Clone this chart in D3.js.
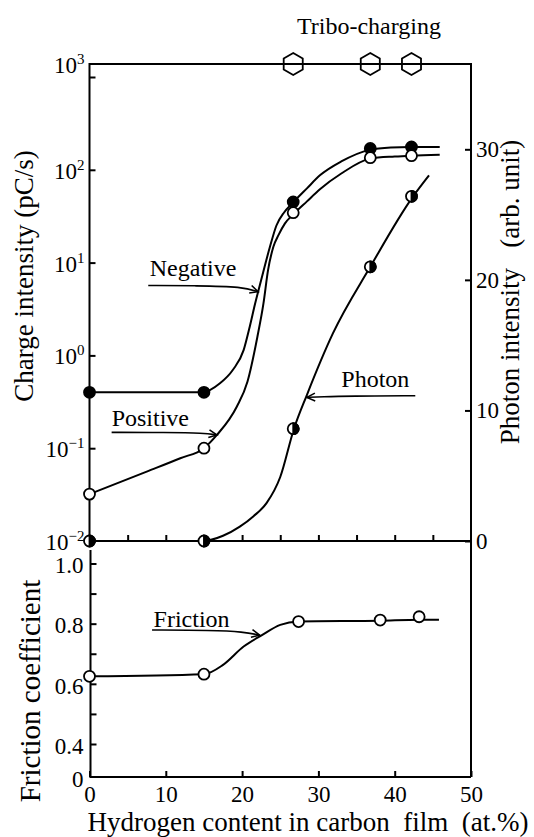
<!DOCTYPE html>
<html><head><meta charset="utf-8">
<script src="https://cdn.jsdelivr.net/npm/d3@7"></script>
<style>
html,body{margin:0;padding:0;background:#fff;}
svg{display:block;}
</style></head><body>
<svg id="chart" width="534" height="837"></svg>
<script>
// ---------- data ----------
const hydrogen = [0, 15, 26.7, 36.8, 42.2];          // at.% (charge / photon points)
const negative = [0.40, 0.40, 45, 170, 176];         // pC/s
const positive = [0.032, 0.10, 34.5, 135, 142];      // pC/s
const photon   = [0, 0, 8.6, 21.0, 26.4];            // arb. unit
const triboCharging = [26.7, 36.8, 42.2];            // at.% where tribo-charging occurs
const frictionX = [0, 15, 27.4, 38.1, 43.2];
const friction  = [0.625, 0.632, 0.807, 0.812, 0.823];

// fitted curves
const negCurveX = [0, 14.8, 17.1, 18.8, 20.2, 21.0, 21.7, 22.5, 23.65, 24.5, 25.5, 26.6, 28.5, 30.2, 33.0, 36.7, 39.5, 42.1, 45.9];
const negCurveY = [0.40, 0.40, 0.50, 0.70, 1.14, 2.04, 3.6, 6.5, 14.8, 25.1, 34.7, 43.7, 63.1, 87.1, 123, 164, 174, 176, 176];
const posCurveX = [0, 7.5, 11.9, 15.0, 16.7, 19.3, 20.7, 22.0, 22.8, 23.4, 24.1, 24.8, 25.6, 26.7, 28.5, 30.2, 33.0, 36.8, 40.0, 42.2, 45.9];
const posCurveY = [0.032, 0.056, 0.078, 0.10, 0.139, 0.28, 0.52, 1.58, 3.63, 8.3, 14.8, 20.0, 26.3, 33.1, 45.7, 61.7, 91.2, 132, 139, 142, 145];
const phoCurveX = [0, 14.9, 17.5, 19.7, 21.5, 23.2, 25.0, 26.8, 28.5, 31.9, 36.8, 42.3, 44.5];
const phoCurveY = [0, 0, 0.4, 1.1, 1.9, 2.9, 4.9, 8.6, 11.2, 15.9, 21.0, 26.3, 28.0];
const friCurveX = [0, 15, 17.5, 20.2, 22.6, 25.0, 27.4, 38.1, 43.2, 45.8];
const friCurveY = [0.625, 0.632, 0.663, 0.724, 0.762, 0.796, 0.807, 0.810, 0.813, 0.813];

// annotation leader lines (data units)
const negArrowX = [7.7, 14.0, 20.1, 22.1];  const negArrowY = [5.66, 5.64, 5.5, 4.85];
const posArrowX = [2.9, 10.0, 15.0, 16.7];  const posArrowY = [0.148, 0.148, 0.146, 0.139];
const phoArrowX = [42.7, 34.0, 30.5, 28.5]; const phoArrowY = [11.13, 11.1, 11.05, 11.0];
const friArrowX = [8.2, 16.0, 20.2, 22.3];  const friArrowY = [0.779, 0.778, 0.773, 0.762];

// ticks / labels
const xTicks = [0, 10, 20, 30, 40, 50];
const xMinorTicks = [5, 10, 15, 20, 25, 30, 35, 40, 45];
const logTicks = [0.01, 0.1, 1, 10, 100, 1000];
const logExponents = ["\u22122", "\u22121", "0", "1", "2", "3"];
const photonTicks = [0, 10, 20, 30];
const frictionTicks = [0, 0.4, 0.6, 0.8, 1.0];
const frictionTickLabels = ["0", "0.4", "0.6", "0.8", "1.0"];
const frictionMinorTicks = [0.4, 0.5, 0.6, 0.7, 0.8, 0.9, 1.0];

// ---------- drawing ----------
const FONT = "'Liberation Serif'";
const svg = d3.select("#chart").style("font-family", FONT);
const LW = 2;
const x = d3.scaleLinear().domain([0, 50]).range([89.5, 471]);
const yLog = d3.scaleLog().domain([0.01, 1000]).range([541, 77]);
const yPh = d3.scaleLinear().domain([0, 30]).range([541, 149.3]);
const yFr = d3.scaleLinear().domain([0, 0.4, 1.0]).range([777, 744, 563.5]);
const frameTop = 64;

svg.append("rect").attr("width", 534).attr("height", 837).attr("fill", "#fff");

// frame lines
const fr = svg.append("g").attr("fill", "none").attr("stroke", "#000").attr("stroke-width", LW);
fr.append("path").attr("d", `M${x(0)},${yLog(0.01)}V${frameTop}H${x(50)}V${yFr(0)}`);
fr.append("path").attr("d", `M${x(0)},${yLog(0.01)}H${x(50)}`);
fr.append("path").attr("d", `M${x(0) + 1},${yLog(0.01) + 9}V${yFr(0)}H${x(50)}`);

function styleAxis(sel, fs) {
  sel.attr("font-family", null).style("font-family", FONT);
  sel.select(".domain").remove();
  sel.selectAll("line").attr("stroke", "#000").attr("stroke-width", LW);
  sel.selectAll("text").style("font-family", FONT)
    .style("font-size", fs + "px").attr("fill", "#000");
}

// left log axis (ticks inward)
const axL = svg.append("g").attr("transform", `translate(${x(0)},0)`)
  .call(d3.axisLeft(yLog).tickValues(logTicks).tickSizeInner(-6).tickSizeOuter(0).tickFormat(""));
styleAxis(axL, 23);
svg.append("g").selectAll("text").data(logTicks).join("text")
  .attr("x", x(0) - 5)
  .attr("y", (d, i) => (i === logTicks.length - 1 ? frameTop : yLog(d)) + 9)
  .attr("text-anchor", "end").style("font-size", "23px").style("font-family", FONT)
  .each(function (d, i) {
    const t = d3.select(this);
    t.append("tspan").text("10");
    t.append("tspan").attr("dy", -9).style("font-size", "15px").text(logExponents[i]);
  });

// right photon axis
const axR = svg.append("g").attr("transform", `translate(${x(50)},0)`)
  .call(d3.axisRight(yPh).tickValues(photonTicks).tickSizeInner(-6).tickSizeOuter(0).tickPadding(5).tickFormat(d3.format("d")));
styleAxis(axR, 23);

// top panel bottom ticks (no labels)
const axTB = svg.append("g").attr("transform", `translate(0,${yLog(0.01)})`)
  .call(d3.axisBottom(x).tickValues(xMinorTicks).tickSizeInner(-6).tickSizeOuter(0).tickFormat(""));
styleAxis(axTB, 23);

// bottom x axis
const axB = svg.append("g").attr("transform", `translate(0,${yFr(0)})`)
  .call(d3.axisBottom(x).tickValues(xTicks).tickSizeInner(-6).tickSizeOuter(0).tickPadding(9).tickFormat(d3.format("d")));
styleAxis(axB, 23);

// friction axis
const axF1 = svg.append("g").attr("transform", `translate(${x(0) + 1},0)`)
  .call(d3.axisLeft(yFr).tickValues(frictionMinorTicks).tickSizeInner(-6).tickSizeOuter(0).tickFormat(""));
styleAxis(axF1, 23);
const axF2 = svg.append("g").attr("transform", `translate(${x(0) + 1},0)`)
  .call(d3.axisLeft(yFr).tickValues(frictionTicks).tickSize(0).tickPadding(7)
    .tickFormat((d, i) => frictionTickLabels[i]));
styleAxis(axF2, 23);
axF2.selectAll("text").attr("dy", "0.4em");

// curves
const zip = (xs, ys) => xs.map((v, i) => [v, ys[i]]);
const curveG = svg.append("g").attr("fill", "none").attr("stroke", "#000").attr("stroke-width", LW);
const lineLog = d3.line().x(d => x(d[0])).y(d => yLog(d[1])).curve(d3.curveMonotoneX);
const linePh = d3.line().x(d => x(d[0])).y(d => yPh(d[1])).curve(d3.curveMonotoneX);
const lineFr = d3.line().x(d => x(d[0])).y(d => yFr(d[1])).curve(d3.curveMonotoneX);
curveG.append("path").attr("d", lineLog(zip(negCurveX, negCurveY)));
curveG.append("path").attr("d", lineLog(zip(posCurveX, posCurveY)));
curveG.append("path").attr("d", linePh(zip(phoCurveX, phoCurveY)));
curveG.append("path").attr("d", lineFr(zip(friCurveX, friCurveY)));

// annotation leaders with open arrowheads
function leader(xs, ys, yScale) {
  const pts = xs.map((v, i) => [x(v), yScale(ys[i])]);
  const ln = d3.line().curve(d3.curveBasis);
  const g = svg.append("g").attr("fill", "none").attr("stroke", "#000").attr("stroke-width", 1.6);
  g.append("path").attr("d", ln(pts));
  const [x1, y1] = pts[pts.length - 2], [x2, y2] = pts[pts.length - 1];
  const ang = Math.atan2(y2 - y1, x2 - x1);
  const L = 9, a = 0.45;
  g.append("path").attr("d",
    `M${x2 - L * Math.cos(ang - a)},${y2 - L * Math.sin(ang - a)}L${x2},${y2}L${x2 - L * Math.cos(ang + a)},${y2 - L * Math.sin(ang + a)}`);
}
leader(negArrowX, negArrowY, yLog);
leader(posArrowX, posArrowY, yLog);
leader(phoArrowX, phoArrowY, yPh);
leader(friArrowX, friArrowY, yFr);

// markers
const R = 5.5;
const mk = svg.append("g").attr("stroke", "#000").attr("stroke-width", 1.8);
mk.selectAll(".neg").data(hydrogen).join("circle").attr("class", "neg")
  .attr("cx", d => x(d)).attr("cy", (d, i) => yLog(negative[i])).attr("r", R).attr("fill", "#000");
mk.selectAll(".pos").data(hydrogen).join("circle").attr("class", "pos")
  .attr("cx", d => x(d)).attr("cy", (d, i) => yLog(positive[i])).attr("r", R).attr("fill", "#fff");
mk.selectAll(".fri").data(frictionX).join("circle").attr("class", "fri")
  .attr("cx", d => x(d)).attr("cy", (d, i) => yFr(friction[i])).attr("r", R).attr("fill", "#fff");
const ph = mk.selectAll(".pho").data(hydrogen).join("g").attr("class", "pho")
  .attr("transform", (d, i) => `translate(${x(d)},${yPh(photon[i])})`);
ph.append("circle").attr("r", R).attr("fill", "#fff");
ph.append("path").attr("d", `M0,${-R}A${R},${R} 0 0 1 0,${R}Z`).attr("fill", "#000");

// tribo-charging hexagons on the top frame
const hexR = 11;
const hexPts = d3.range(6).map(k => {
  const a = -Math.PI / 2 + k * Math.PI / 3;
  return [hexR * Math.cos(a), hexR * Math.sin(a)];
});
svg.append("g").selectAll("path").data(triboCharging).join("path")
  .attr("transform", d => `translate(${x(d)},${frameTop})`)
  .attr("d", d3.line()(hexPts) + "Z")
  .attr("fill", "none").attr("stroke", "#000").attr("stroke-width", 1.8);

// texts
const T = (txt, xx, yy, fs, anchor = "start", rot = 0) =>
  svg.append("text").attr("transform", `translate(${xx},${yy}) rotate(${rot})`)
    .attr("text-anchor", anchor).style("font-size", fs + "px").style("font-family", FONT)
    .style("white-space", "pre").text(txt);

T("Tribo-charging", 369, 34, 24, "middle");
T("Charge intensity (pC/s)", 33, 276, 27, "middle", -90);
T("Photon intensity   (arb. unit)", 519, 292, 27, "middle", -90);
T("Friction coefficient", 40, 691, 29, "middle", -90);
T("Hydrogen content in carbon  film  (at.%)", 308, 831, 27, "middle");

// curve labels placed in data coordinates
const lab = (txt, xv, yv) => svg.append("text").attr("x", xv).attr("y", yv)
  .style("font-size", "24px").style("font-family", FONT).text(txt);
lab("Negative", x(7.9), yLog(7.2));
lab("Positive", x(2.9), yLog(0.173));
lab("Photon", x(33.0), yPh(11.8));
lab("Friction", x(8.4), yFr(0.79));
</script>
</body></html>
